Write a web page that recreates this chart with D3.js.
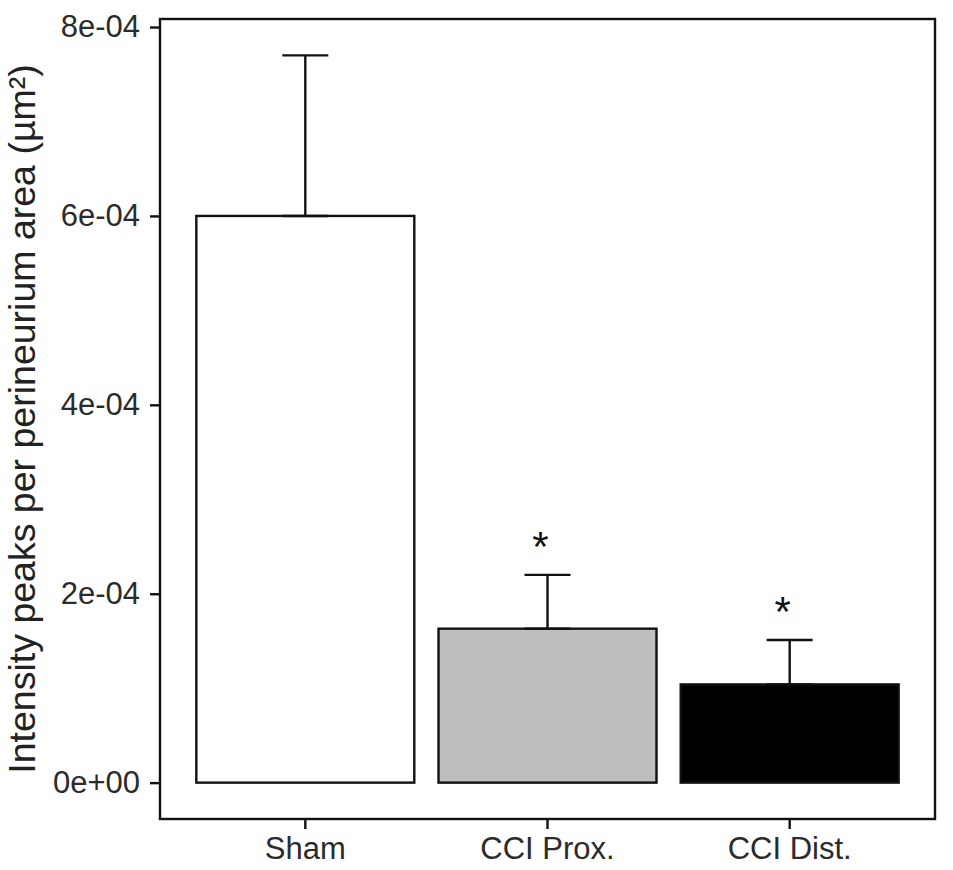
<!DOCTYPE html>
<html>
<head>
<meta charset="utf-8">
<script src="https://cdn.jsdelivr.net/npm/d3@7"></script>
<style>
  html, body { margin: 0; padding: 0; background: #fff; }
  svg { display: block; }
  text { font-family: "Liberation Sans", Arial, Helvetica, sans-serif; }
</style>
</head>
<body>
<svg id="chart" width="953" height="870"></svg>
<script>
// ---- data ----
const categories = ["Sham", "CCI Prox.", "CCI Dist."];
const means      = [6.00e-4, 1.63e-4, 1.04e-4];
const errors     = [1.70e-4, 0.57e-4, 0.47e-4];
const fills      = ["#ffffff", "#bebebe", "#000000"];
const signif     = ["", "*", "*"];
const yTicks     = [0, 2e-4, 4e-4, 6e-4, 8e-4];
const yTitle     = "Intensity peaks per perineurium area (µm²)";

// ---- layout ----
const W = 953, H = 870;
const m = { left: 160, top: 19, right: 18, bottom: 51 };
const svg = d3.select("#chart");

const rows = categories.map((c, i) => ({ cat: c, mean: means[i], err: errors[i], fill: fills[i], sig: signif[i] }));

const yMax = d3.max(rows, d => d.mean + d.err);
const ex = yMax * 0.05;
const y = d3.scaleLinear()
  .domain([0 - ex, yMax + ex])
  .range([H - m.bottom, m.top]);

const x = d3.scaleBand()
  .domain(categories)
  .range([m.left, W - m.right])
  .paddingInner(0.1)
  .paddingOuter(0.15);

function sci(v) {
  if (v === 0) return "0e+00";
  const e = Math.floor(Math.log10(Math.abs(v)) + 1e-9);
  const mant = Math.round(v / Math.pow(10, e));
  const sign = e < 0 ? "-" : "+";
  return mant + "e" + sign + String(Math.abs(e)).padStart(2, "0");
}

// bars
svg.append("g").selectAll("rect")
  .data(rows).join("rect")
  .attr("x", d => x(d.cat))
  .attr("width", x.bandwidth())
  .attr("y", d => y(d.mean))
  .attr("height", d => y(0) - y(d.mean))
  .attr("fill", d => d.fill)
  .attr("stroke", "#111")
  .attr("stroke-width", 2.4);

// error bars (upper only)
const capW = x.step() * 0.19;
const eb = svg.append("g").attr("stroke", "#111").attr("stroke-width", 2.4).attr("fill", "none");
rows.forEach(d => {
  const cx = x(d.cat) + x.bandwidth() / 2;
  eb.append("line").attr("x1", cx).attr("x2", cx).attr("y1", y(d.mean)).attr("y2", y(d.mean + d.err));
  eb.append("line").attr("x1", cx - capW / 2).attr("x2", cx + capW / 2).attr("y1", y(d.mean + d.err)).attr("y2", y(d.mean + d.err));
  eb.append("line").attr("x1", cx - capW / 2).attr("x2", cx + capW / 2).attr("y1", y(d.mean)).attr("y2", y(d.mean));
});

// significance stars
svg.append("g").selectAll("text")
  .data(rows.filter(d => d.sig)).join("text")
  .attr("x", d => x(d.cat) + x.bandwidth() / 2 - 7)
  .attr("y", d => y(d.mean + d.err) - 14)
  .attr("text-anchor", "middle")
  .attr("font-size", 42)
  .attr("fill", "#111")
  .text(d => d.sig);

// panel border
svg.append("rect")
  .attr("x", m.left).attr("y", m.top)
  .attr("width", W - m.left - m.right)
  .attr("height", H - m.top - m.bottom)
  .attr("fill", "none").attr("stroke", "#111").attr("stroke-width", 2.4);

// y axis
const yAxis = svg.append("g")
  .attr("transform", `translate(${m.left},0)`)
  .call(d3.axisLeft(y).tickValues(yTicks).tickFormat(sci).tickSize(10).tickPadding(10));
yAxis.select(".domain").remove();
yAxis.selectAll(".tick line").attr("stroke", "#111").attr("stroke-width", 2.4);
yAxis.selectAll(".tick text").attr("font-size", 31).attr("fill", "#2b2b2b")
  .attr("font-family", "'Liberation Sans', Arial, sans-serif");

// x axis
const xAxis = svg.append("g")
  .attr("transform", `translate(0,${H - m.bottom})`)
  .call(d3.axisBottom(x).tickSize(10).tickPadding(8));
xAxis.select(".domain").remove();
xAxis.selectAll(".tick line").attr("stroke", "#111").attr("stroke-width", 2.4);
xAxis.selectAll(".tick text").attr("font-size", 31).attr("fill", "#2b2b2b")
  .attr("font-family", "'Liberation Sans', Arial, sans-serif");

// y title
svg.append("text")
  .attr("transform", `translate(35,${(m.top + H - m.bottom) / 2}) rotate(-90)`)
  .attr("text-anchor", "middle")
  .attr("font-size", 37.5)
  .attr("fill", "#222")
  .text(yTitle);
</script>
</body>
</html>
